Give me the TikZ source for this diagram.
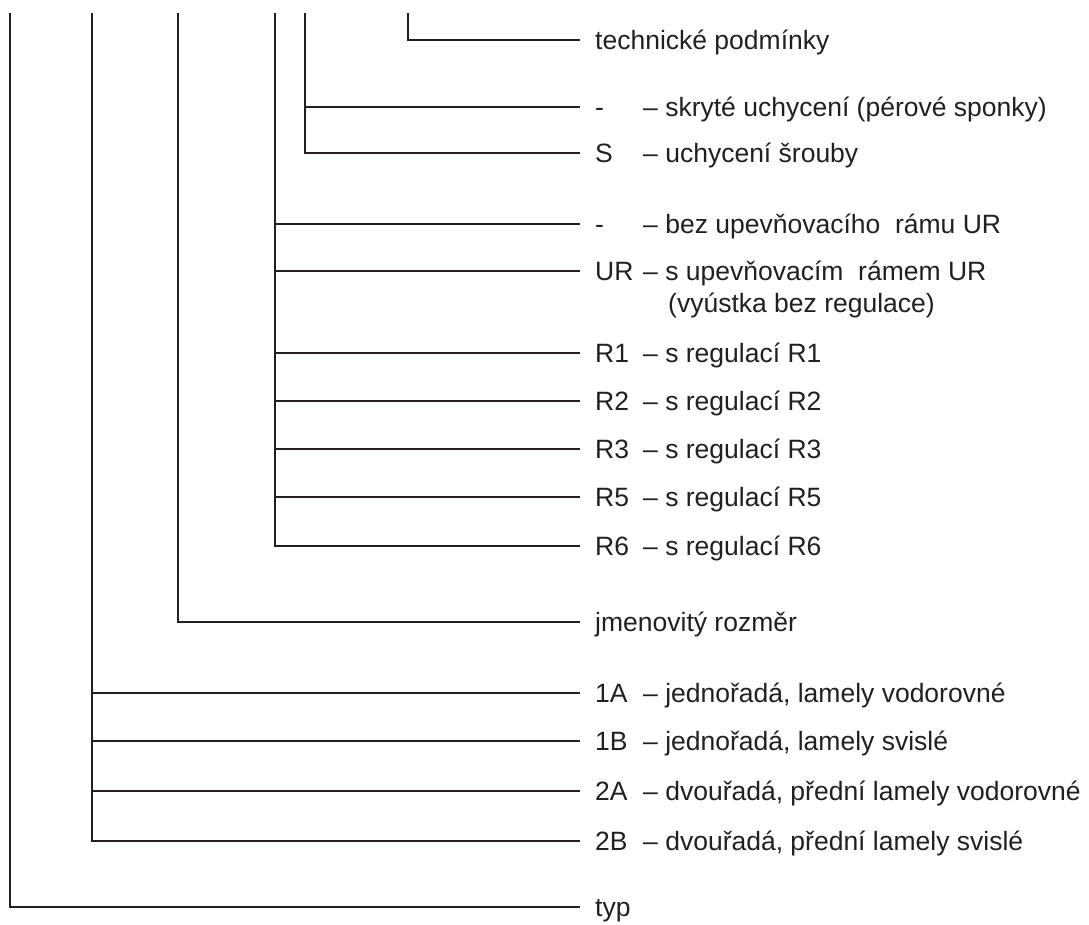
\documentclass[tikz,border=0pt]{standalone}
\usepackage{fontspec}
\setmainfont{Liberation Sans}
\definecolor{InkGray}{RGB}{35,31,32}
\newcommand{\opt}[2]{\makebox[48pt][l]{#1}–\ #2}

\begin{document}
\begin{tikzpicture}[
    x=1pt, y=-1pt,
    lbl/.style={anchor=west, inner xsep=15pt, inner ysep=0pt, text height=19pt, text depth=0pt, text=InkGray, font=\fontsize{26.5}{30}\selectfont},
    tree/.style={line width=1.5pt, InkGray}
]
    \useasboundingbox (0,0) rectangle (1089,924);
    % tops of the trunks
    \coordinate (tTyp) at (10,13);
    \coordinate (tRad) at (92,13);
    \coordinate (tRoz) at (178,13);
    \coordinate (tReg) at (275,13);
    \coordinate (tUch) at (305,13);
    \coordinate (tTech) at (408,13);
    % labels
    \node[lbl] (tech) at (580,40)  {technické podmínky};
    \node[lbl] (skr)  at (580,107) {\opt{-}{skryté uchycení (pérové sponky)}};
    \node[lbl] (sro)  at (580,153) {\opt{S}{uchycení šrouby}};
    \node[lbl] (bez)  at (580,224) {\opt{-}{bez upevňovacího\ \ rámu UR}};
    \node[lbl] (ur)   at (580,271) {\opt{UR}{s upevňovacím\ \ rámem UR}};
    \node[lbl] (urnote) at (653,303) {(vyústka bez regulace)};
    \node[lbl] (rI)   at (580,353) {\opt{R1}{s regulací R1}};
    \node[lbl] (rII)  at (580,401) {\opt{R2}{s regulací R2}};
    \node[lbl] (rIII) at (580,449) {\opt{R3}{s regulací R3}};
    \node[lbl] (rV)   at (580,497) {\opt{R5}{s regulací R5}};
    \node[lbl] (rVI)  at (580,546) {\opt{R6}{s regulací R6}};
    \node[lbl] (jmen) at (580,622) {jmenovitý rozměr};
    \node[lbl] (aI)   at (580,693) {\opt{1A}{jednořadá, lamely vodorovné}};
    \node[lbl] (bI)   at (580,741) {\opt{1B}{jednořadá, lamely svislé}};
    \node[lbl] (aII)  at (580,791) {\opt{2A}{dvouřadá, přední lamely vodorovné}};
    \node[lbl] (bII)  at (580,841) {\opt{2B}{dvouřadá, přední lamely svislé}};
    \node[lbl] (typ)  at (580,907) {typ};
    % branches
    \draw[tree] (tTech) |- (tech.west);
    \draw[tree] (tUch) |- (sro.west);
    \draw[tree] (tUch |- skr.west) -- (skr.west);
    \draw[tree] (tReg) |- (rVI.west);
    \draw[tree] (tReg |- bez.west) -- (bez.west);
    \draw[tree] (tReg |- ur.west) -- (ur.west);
    \draw[tree] (tReg |- rI.west) -- (rI.west);
    \draw[tree] (tReg |- rII.west) -- (rII.west);
    \draw[tree] (tReg |- rIII.west) -- (rIII.west);
    \draw[tree] (tReg |- rV.west) -- (rV.west);
    \draw[tree] (tRoz) |- (jmen.west);
    \draw[tree] (tRad) |- (bII.west);
    \draw[tree] (tRad |- aI.west) -- (aI.west);
    \draw[tree] (tRad |- bI.west) -- (bI.west);
    \draw[tree] (tRad |- aII.west) -- (aII.west);
    \draw[tree] (tTyp) |- (typ.west);
\end{tikzpicture}
\end{document}
